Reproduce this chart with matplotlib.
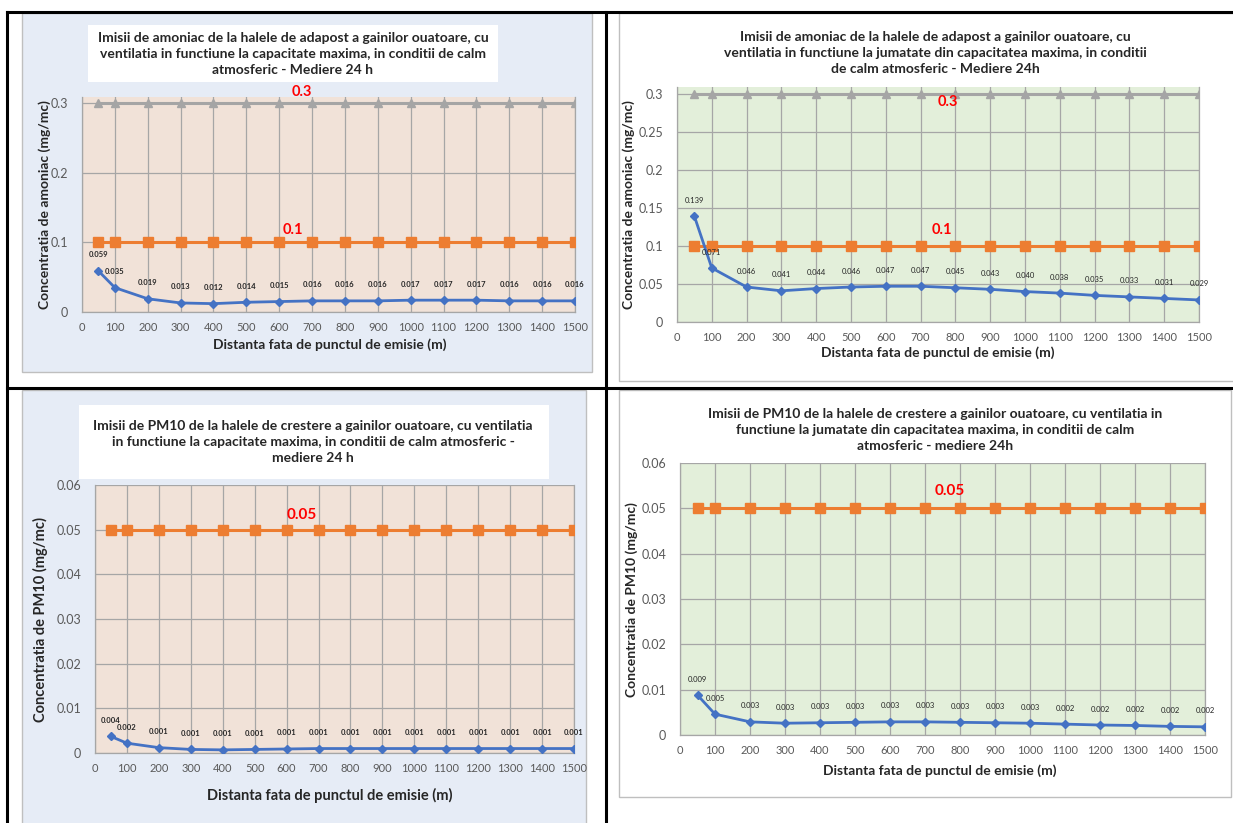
import matplotlib
matplotlib.use('Agg')
import matplotlib.pyplot as plt
from matplotlib.patches import Rectangle
from matplotlib.lines import Line2D

plt.rcParams['font.family'] = ['Lato', 'DejaVu Sans']

distances = [50, 100, 200, 300, 400, 500, 600, 700, 800, 900, 1000, 1100, 1200, 1300, 1400, 1500]
x_ticks = list(range(0, 1600, 100))

nh3_max = [0.059, 0.035, 0.019, 0.013, 0.012, 0.014, 0.015, 0.016, 0.016, 0.016, 0.017, 0.017, 0.017, 0.016, 0.016, 0.016]
nh3_half = [0.139, 0.071, 0.046, 0.041, 0.044, 0.046, 0.047, 0.047, 0.045, 0.043, 0.040, 0.038, 0.035, 0.033, 0.031, 0.029]
pm10_max = [0.0037, 0.0022, 0.0012, 0.0008, 0.0007, 0.0008, 0.0009, 0.0010, 0.0010, 0.0010, 0.0010, 0.0010, 0.0010, 0.0010, 0.0010, 0.0010]
pm10_half = [0.0088, 0.0046, 0.0029, 0.0026, 0.0027, 0.0028, 0.0029, 0.0029, 0.0028, 0.0027, 0.0026, 0.0024, 0.0022, 0.0021, 0.0019, 0.0018]

nh3_limit_24h = 0.1
nh3_limit_short = 0.3
pm10_limit = 0.05

titles = [
    'Imisii de amoniac de la halele de adapost a gainilor ouatoare, cu\nventilatia in functiune la capacitate maxima, in conditii de calm\natmosferic - Mediere 24 h',
    'Imisii de amoniac de la halele de adapost a gainilor ouatoare, cu\nventilatia in functiune la jumatate din capacitatea maxima, in conditii\nde calm atmosferic - Mediere 24h',
    'Imisii de PM10 de la halele de crestere a gainilor ouatoare, cu ventilatia\nin functiune la capacitate maxima, in conditii de calm atmosferic -\nmediere 24 h',
    'Imisii de PM10 de la halele de crestere a gainilor ouatoare, cu ventilatia in\nfunctiune la jumatate din capacitatea maxima, in conditii de calm\natmosferic - mediere 24h',
]
ylabel_nh3 = 'Concentratia de amoniac (mg/mc)'
ylabel_pm10 = 'Concentratia de PM10 (mg/mc)'
xlabel = 'Distanta fata de punctul de emisie (m)'

W, H = 1233, 823
fig = plt.figure(figsize=(W / 100, H / 100), dpi=100)
fig.patch.set_facecolor('white')


def fx(x):
    return x / W


def fy(y):
    return 1 - y / H


def rect(x0, y0, x1, y1, face, edge):
    fig.patches.append(Rectangle((fx(x0), fy(y1)), fx(x1) - fx(x0), fy(y0) - fy(y1),
                                 transform=fig.transFigure, facecolor=face,
                                 edgecolor=edge, linewidth=1, zorder=-5))


BLUE_BG = '#E6ECF6'
PEACH = '#F1E2D8'
GREEN = '#E3EFDA'
GRID = '#A6A6A6'
TEXT = '#262626'

# chart boxes
rect(22, 13, 592, 372, BLUE_BG, '#BFBFBF')
rect(619, 13, 1240, 381, 'white', '#BFBFBF')
rect(22, 390, 586, 830, BLUE_BG, '#BFBFBF')
rect(619, 390, 1231, 797, 'white', '#BFBFBF')
# white title boxes on blue charts
rect(88, 25, 498, 82, 'white', 'none')
rect(79, 405, 549, 479, 'white', 'none')

# table lines
for xs, ys in [([7, 7], [12, 830]), ([606, 606], [12, 830]),
               ([7, 1240], [12, 12]), ([7, 1240], [388, 388])]:
    fig.lines.append(Line2D([fx(v) for v in xs], [fy(v) for v in ys],
                            transform=fig.transFigure, color='black', linewidth=2.2, zorder=10))


def make_axes(box, face, ymax, yticks, ytick_labels):
    x0, y0, x1, y1 = box
    ax = fig.add_axes([fx(x0), fy(y1), fx(x1) - fx(x0), fy(y0) - fy(y1)])
    ax.set_facecolor(face)
    ax.set_xlim(0, 1500)
    ax.set_ylim(0, ymax)
    ax.set_xticks(x_ticks)
    ax.set_xticklabels([str(t) for t in x_ticks])
    ax.set_yticks(yticks)
    ax.set_yticklabels(ytick_labels)
    ax.grid(True, color=GRID, linewidth=0.9)
    ax.set_axisbelow(True)
    for side in ['left', 'right', 'bottom']:
        ax.spines[side].set_color(GRID)
        ax.spines[side].set_linewidth(0.9)
    ax.spines['top'].set_visible(False)
    ax.tick_params(length=0, labelcolor='#595959', labelsize=9)
    ax.tick_params(axis='x', labelsize=8, pad=7)
    ax.tick_params(axis='y', pad=10)
    return ax


def draw_series(ax, values, bold, fmt_size):
    ax.plot(distances, values, color='#4472C4', linewidth=2, marker='D', markersize=4, zorder=4)
    for x, v in zip(distances, values):
        ax.annotate('%.3f' % v, (x, v), xytext=(0, 9), textcoords='offset points',
                    ha='center', va='bottom', fontsize=fmt_size,
                    fontweight='bold' if bold else 'normal', color=TEXT, zorder=5)


def draw_limit(ax, value, color, marker, msize):
    ax.plot(distances, [value] * len(distances), color=color, linewidth=2.2,
            marker=marker, markersize=msize, zorder=3)


# top-left
ax1 = make_axes((82, 97, 575, 312), PEACH, 0.309, [0, 0.1, 0.2, 0.3], ['0', '0.1', '0.2', '0.3'])
draw_limit(ax1, nh3_limit_short, '#A5A5A5', '^', 6)
draw_limit(ax1, nh3_limit_24h, '#ED7D31', 's', 7)
draw_series(ax1, nh3_max, True, 5.5)
ax1.text(670, 0.3165, '0.3', color='red', fontsize=10.5, fontweight='bold', ha='center', va='center', clip_on=False)
ax1.text(643, 0.118, '0.1', color='red', fontsize=10.5, fontweight='bold', ha='center', va='center')

# top-right
ax2 = make_axes((677, 87, 1199, 322), GREEN, 0.309, [0, 0.05, 0.1, 0.15, 0.2, 0.25, 0.3],
                ['0', '0.05', '0.1', '0.15', '0.2', '0.25', '0.3'])
draw_limit(ax2, nh3_limit_short, '#A5A5A5', '^', 6)
draw_limit(ax2, nh3_limit_24h, '#ED7D31', 's', 7)
draw_series(ax2, nh3_half, False, 5.5)
ax2.text(779, 0.289, '0.3', color='red', fontsize=10.5, fontweight='bold', ha='center', va='center')
ax2.text(762, 0.121, '0.1', color='red', fontsize=10.5, fontweight='bold', ha='center', va='center')

pm_ticks = [0, 0.01, 0.02, 0.03, 0.04, 0.05, 0.06]
pm_labels = ['0', '0.01', '0.02', '0.03', '0.04', '0.05', '0.06']

# bottom-left
ax3 = make_axes((95, 485, 574, 753), PEACH, 0.06, pm_ticks, pm_labels)
draw_limit(ax3, pm10_limit, '#ED7D31', 's', 7)
draw_series(ax3, pm10_max, True, 5.5)
ax3.text(648, 0.0533, '0.05', color='red', fontsize=11, fontweight='bold', ha='center', va='center')

# bottom-right
ax4 = make_axes((680, 463, 1205, 735), GREEN, 0.06, pm_ticks, pm_labels)
draw_limit(ax4, pm10_limit, '#ED7D31', 's', 7)
draw_series(ax4, pm10_half, False, 5.5)
ax4.text(771, 0.0538, '0.05', color='red', fontsize=11, fontweight='bold', ha='center', va='center')

# titles and axis labels
title_pos = [(293, 54), (935, 53), (313, 442), (935, 430)]
title_size = [10, 10, 10, 10]
for (tx, ty), t, s in zip(title_pos, titles, title_size):
    fig.text(fx(tx), fy(ty), t, ha='center', va='center', fontsize=s, fontweight='bold',
             color=TEXT, linespacing=1.4)

fig.text(fx(45), fy(205), ylabel_nh3, rotation=90, ha='center', va='center', fontsize=10, fontweight='bold', color=TEXT)
fig.text(fx(629), fy(205), ylabel_nh3, rotation=90, ha='center', va='center', fontsize=10, fontweight='bold', color=TEXT)
fig.text(fx(40), fy(620), ylabel_pm10, rotation=90, ha='center', va='center', fontsize=10.5, fontweight='bold', color=TEXT)
fig.text(fx(632), fy(600), ylabel_pm10, rotation=90, ha='center', va='center', fontsize=10, fontweight='bold', color=TEXT)

fig.text(fx(330), fy(345), xlabel, ha='center', va='center', fontsize=10, fontweight='bold', color=TEXT)
fig.text(fx(938), fy(353), xlabel, ha='center', va='center', fontsize=10, fontweight='bold', color=TEXT)
fig.text(fx(330), fy(795), xlabel, ha='center', va='center', fontsize=10.5, fontweight='bold', color=TEXT)
fig.text(fx(940), fy(771), xlabel, ha='center', va='center', fontsize=10, fontweight='bold', color=TEXT)

fig.savefig('out.png', dpi=100)
